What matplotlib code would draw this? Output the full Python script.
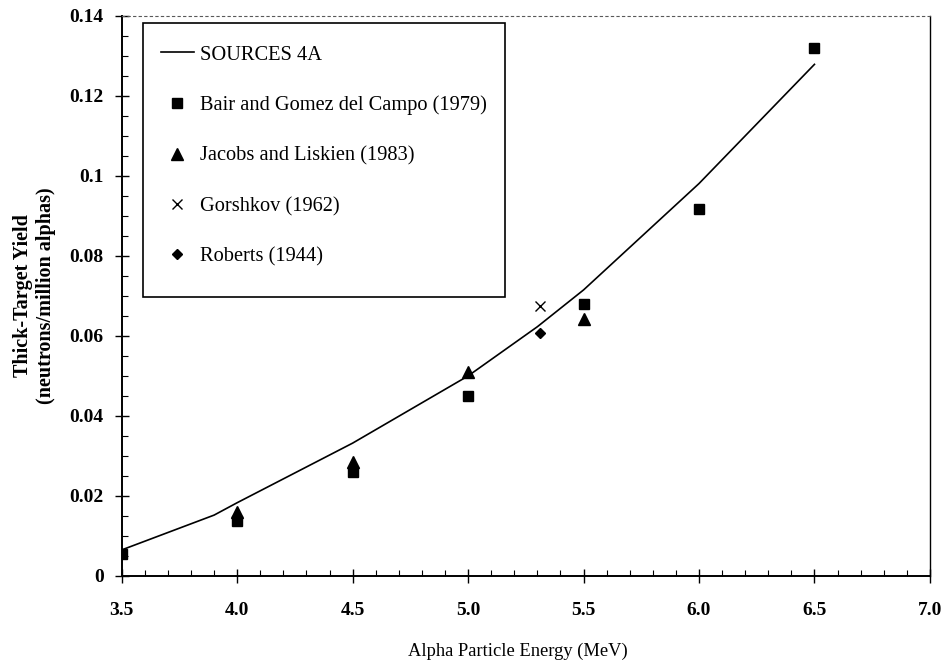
'''Thick-target neutron yield vs. alpha energy: SOURCES 4A against measurements.'''
import matplotlib
matplotlib.use('Agg')
import matplotlib.pyplot as plt
from matplotlib.patches import Rectangle
from matplotlib.ticker import MultipleLocator, FixedFormatter, FixedLocator

SERIF = ['Liberation Serif', 'DejaVu Serif']

# SOURCES 4A calculation
sources_e = [3.5, 3.9, 4.0, 4.5, 5.0, 5.3, 5.5, 5.75, 6.0, 6.25, 6.5]
sources_y = [0.0065, 0.0152, 0.0183, 0.0332, 0.0500, 0.0623, 0.0715,
             0.0848, 0.0981, 0.1130, 0.1279]

# measurements
bair_e = [3.5, 4.0, 4.5, 5.0, 5.5, 6.0, 6.5]
bair_y = [0.0055, 0.0138, 0.026, 0.045, 0.068, 0.0918, 0.132]

jacobs_e = [4.0, 4.5, 5.0, 5.5]
jacobs_y = [0.016, 0.0285, 0.0511, 0.0642]

gorshkov_e = [5.31]
gorshkov_y = [0.0676]

roberts_e = [5.31]
roberts_y = [0.0608]

x_ticks = [3.5, 4.0, 4.5, 5.0, 5.5, 6.0, 6.5, 7.0]
x_labels = ['3.5', '4.0', '4.5', '5.0', '5.5', '6.0', '6.5', '7.0']
y_ticks = [0, 0.02, 0.04, 0.06, 0.08, 0.1, 0.12, 0.14]
y_labels = ['0', '0.02', '0.04', '0.06', '0.08', '0.1', '0.12', '0.14']


def draw():
    fig = plt.figure(figsize=(9.46, 6.65), dpi=100)
    ax = fig.add_axes([0.1287, 0.134, 0.8543, 0.842])

    ax.plot(sources_e, sources_y, color='black', lw=1.2, label='SOURCES 4A')
    ax.plot(bair_e, bair_y, ls='none', marker='s', ms=7.8, color='black',
            label='Bair and Gomez del Campo (1979)')
    ax.plot(jacobs_e, jacobs_y, ls='none', marker='^', ms=8.5, color='black',
            label='Jacobs and Liskien (1983)')
    ax.plot(gorshkov_e, gorshkov_y, ls='none', marker='x', ms=7, mew=1.0,
            color='black', label='Gorshkov (1962)')
    ax.plot(roberts_e, roberts_y, ls='none', marker='D', ms=5.5, color='black',
            label='Roberts (1944)')

    ax.set_xlim(3.5, 7.0)
    ax.set_ylim(0, 0.14)

    ax.xaxis.set_major_locator(FixedLocator(x_ticks))
    ax.xaxis.set_major_formatter(FixedFormatter(x_labels))
    ax.xaxis.set_minor_locator(MultipleLocator(0.1))
    ax.yaxis.set_major_locator(FixedLocator(y_ticks))
    ax.yaxis.set_major_formatter(FixedFormatter(y_labels))
    ax.yaxis.set_minor_locator(MultipleLocator(0.005))

    ax.tick_params(which='major', direction='inout', length=10, width=1.0,
                   top=False, right=False)
    ax.tick_params(which='minor', direction='in', length=4, width=0.8,
                   top=False, right=False)
    ax.tick_params(axis='x', pad=14)
    ax.tick_params(axis='y', pad=8)
    for lab in ax.get_xticklabels() + ax.get_yticklabels():
        lab.set_family(SERIF)
        lab.set_fontsize(14)
        lab.set_fontweight('bold')

    for side in ('left', 'bottom'):
        ax.spines[side].set_linewidth(1.4)
    ax.spines['top'].set_linewidth(0.8)
    ax.spines['top'].set_linestyle((0, (2, 3)))
    ax.spines['top'].set_color('0.35')
    ax.spines['right'].set_linewidth(1.0)

    ax.set_xlabel('Alpha Particle Energy (MeV)', family=SERIF, fontsize=13.3,
                  labelpad=17, x=0.49)
    ax.set_ylabel('Thick-Target Yield\n(neutrons/million alphas)',
                  family=SERIF, fontsize=14.5, fontweight='bold',
                  labelpad=10, linespacing=1.2)

    # legend text and keys, box drawn separately to match the original frame
    ax.legend(loc='upper left', bbox_to_anchor=(0.026, 0.9804),
              prop={'family': SERIF, 'size': 14.7}, frameon=False,
              borderpad=0.9, labelspacing=1.52, handlelength=1.6,
              handletextpad=0.3, borderaxespad=0)
    ax.add_patch(Rectangle((0.0264, 0.498), 0.4478, 0.4895,
                           transform=ax.transAxes, fill=False,
                           edgecolor='black', lw=1.2, zorder=5))

    fig.savefig('out.png', dpi=100)


if __name__ == '__main__':
    draw()
